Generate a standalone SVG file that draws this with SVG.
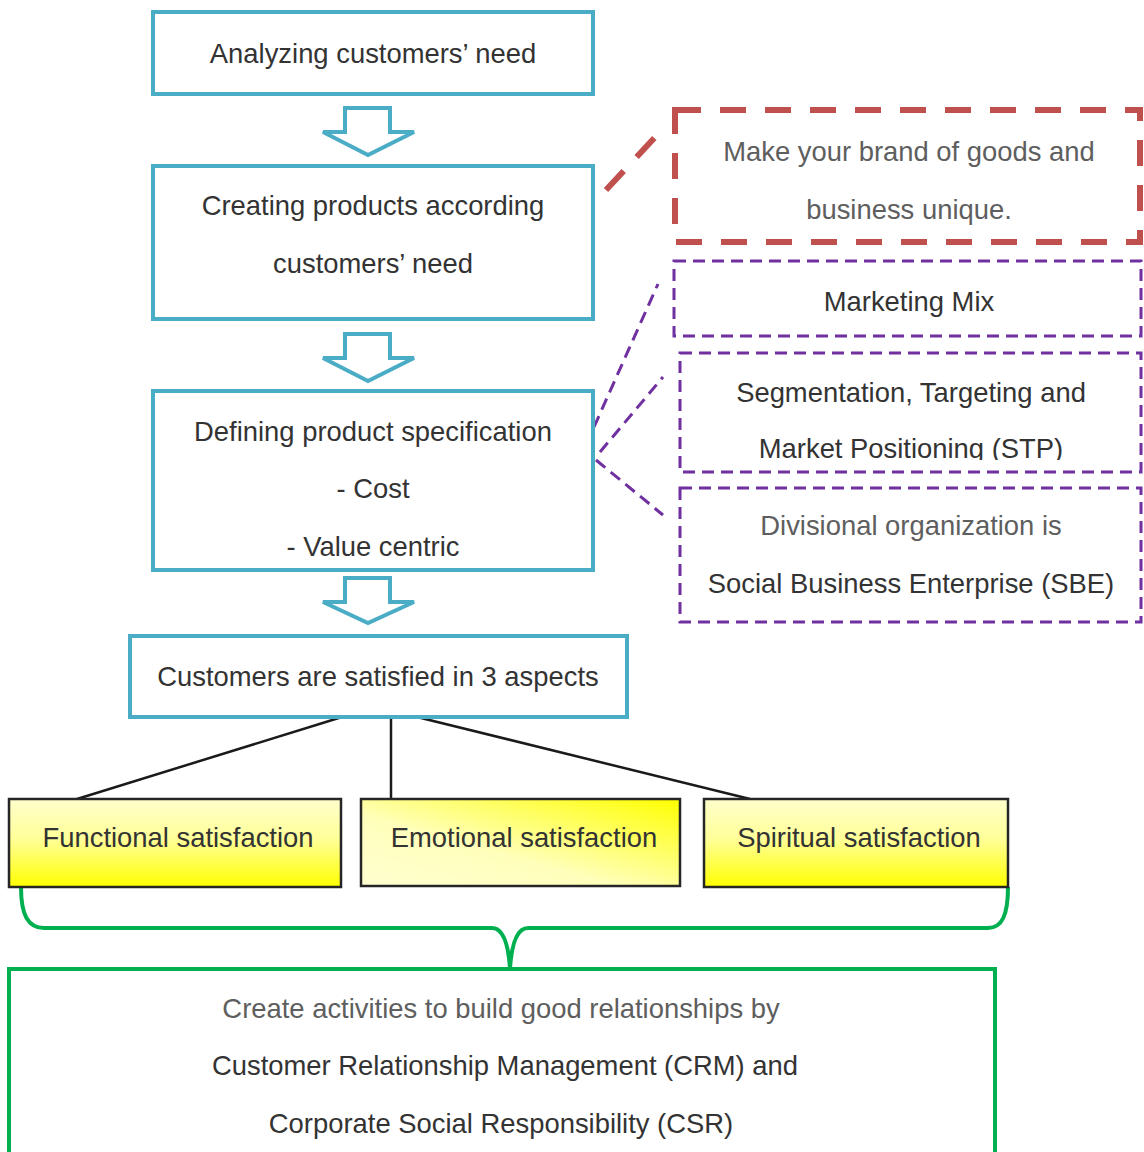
<svg xmlns="http://www.w3.org/2000/svg" width="1144" height="1152" viewBox="0 0 1144 1152">
<defs>
<style>
text{font-family:"Liberation Sans",Arial,sans-serif;font-size:27.4px;fill:#333333;text-anchor:middle}
.gray{fill:#5e5e5e}
.blue{fill:#fff;stroke:#4BACC6;stroke-width:4}
.arrow{fill:#fff;stroke:#4BACC6;stroke-width:4;stroke-linejoin:miter}
.red{fill:none;stroke:#C0504D;stroke-width:6;stroke-dasharray:26 19}
.purple{fill:none;stroke:#7030A0;stroke-width:3;stroke-dasharray:12 7}
.yel{stroke:#262626;stroke-width:2.5}
.link{stroke:#1a1a1a;stroke-width:2.5;fill:none}
.green{fill:none;stroke:#00B050;stroke-width:4}
</style>
<linearGradient id="gv" x1="0" y1="0" x2="0" y2="1">
<stop offset="0" stop-color="#FFFFCC"/>
<stop offset="0.45" stop-color="#FFFF99"/>
<stop offset="1" stop-color="#FFFF00"/>
</linearGradient>
<linearGradient id="gd" x1="1" y1="0" x2="0" y2="1">
<stop offset="0" stop-color="#FFFF00"/>
<stop offset="0.6" stop-color="#FFFFBB"/>
<stop offset="1" stop-color="#FFFFD0"/>
</linearGradient>
<clipPath id="clipSTP"><rect x="680" y="353" width="461" height="107"/></clipPath>
</defs>

<g id="connectors">
<path class="arrow" d="M345,108 H390 V132 H414 L368,155 L323,132 H345 Z"/>
<path class="arrow" d="M345,334 H390 V358 H414 L368,381 L323,358 H345 Z"/>
<path class="arrow" d="M345,578 H390 V602 H414 L368,623 L323,602 H345 Z"/>
<line class="red" x1="606" y1="190" x2="658" y2="134"/>
<line class="purple" x1="594" y1="427" x2="658" y2="284"/>
<line class="purple" x1="600" y1="452" x2="663" y2="377"/>
<line class="purple" x1="596" y1="460" x2="663" y2="515"/>
<line class="link" x1="342" y1="717" x2="77" y2="799"/>
<line class="link" x1="391" y1="717" x2="391" y2="799"/>
<line class="link" x1="417" y1="717" x2="750" y2="799"/>
<path class="green" d="M21,887 C21,915 28,928 44,928 H492 C502,928 508,940 510,968 C512,940 518,928 528,928 H988 C1002,928 1008,915 1008,887"/>
</g>

<g id="n-analyzing">
<rect class="blue" x="153" y="12" width="440" height="82"/>
<text x="373" y="63">Analyzing customers’ need</text>
</g>

<g id="n-creating">
<rect class="blue" x="153" y="166" width="440" height="153"/>
<text x="373" y="215">Creating products according</text>
<text x="373" y="273">customers’ need</text>
</g>

<g id="n-defining">
<rect class="blue" x="153" y="391" width="440" height="179"/>
<text x="373" y="441">Defining product specification</text>
<text x="373" y="498">- Cost</text>
<text x="373" y="556">- Value centric</text>
</g>

<g id="n-satisfied">
<rect class="blue" x="130" y="636" width="497" height="81"/>
<text x="378" y="686">Customers are satisfied in 3 aspects</text>
</g>

<g id="n-brand">
<rect class="red" x="675" y="110" width="465" height="132"/>
<text class="gray" x="909" y="161">Make your brand of goods and</text>
<text class="gray" x="909" y="219">business unique.</text>
</g>

<g id="n-mix">
<rect class="purple" x="674" y="261" width="467" height="75"/>
<text x="909" y="311">Marketing Mix</text>
</g>

<g id="n-stp">
<rect class="purple" x="680" y="353" width="461" height="119"/>
<text x="911" y="402">Segmentation, Targeting and</text>
<text x="911" y="458" clip-path="url(#clipSTP)">Market Positioning (STP)</text>
</g>

<g id="n-sbe">
<rect class="purple" x="680" y="488" width="461" height="134"/>
<text class="gray" x="911" y="535">Divisional organization is</text>
<text x="911" y="593">Social Business Enterprise (SBE)</text>
</g>

<g id="n-functional">
<rect class="yel" x="9" y="799" width="332" height="88" fill="url(#gv)" stroke-width="3"/>
<text x="178" y="847">Functional satisfaction</text>
</g>

<g id="n-emotional">
<rect class="yel" x="361" y="799" width="319" height="87" fill="url(#gd)"/>
<text x="524" y="847">Emotional satisfaction</text>
</g>

<g id="n-spiritual">
<rect class="yel" x="704" y="799" width="304" height="88" fill="url(#gv)" stroke-width="3"/>
<text x="859" y="847">Spiritual satisfaction</text>
</g>

<g id="n-activities">
<rect class="green" x="9" y="969" width="986" height="190" stroke-width="3"/>
<text class="gray" x="501" y="1018">Create activities to build good relationships by</text>
<text x="505" y="1075">Customer Relationship Management (CRM) and</text>
<text x="501" y="1133">Corporate Social Responsibility (CSR)</text>
</g>
</svg>
